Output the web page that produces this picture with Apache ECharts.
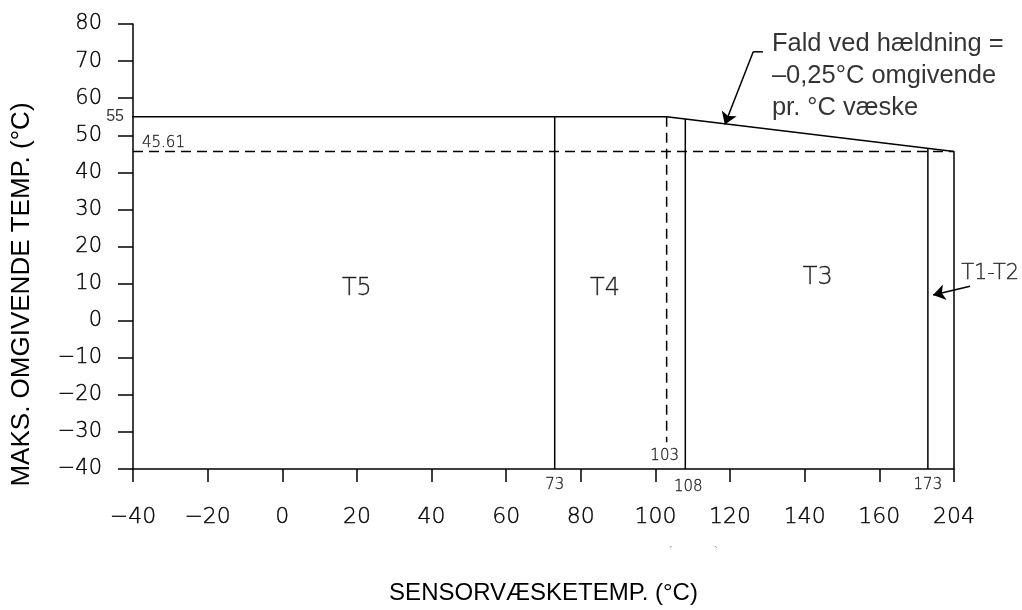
<!DOCTYPE html>
<html>
<head>
<meta charset="utf-8">
<script src="https://cdn.jsdelivr.net/npm/echarts@6/dist/echarts.min.js"></script>
<style>html,body{margin:0;padding:0;background:#fff}#c{width:1022px;height:610px}</style>
</head>
<body>
<div id="c"></div>
<script>
// ---- data ----
var xTickValues = [-40, -20, 0, 20, 40, 60, 80, 100, 120, 140, 160, 180];
var xTickLabels = ['−40', '−20', '0', '20', '40', '60', '80', '100', '120', '140', '160', '204'];
var yTickValues = [-40, -30, -20, -10, 0, 10, 20, 30, 40, 50, 60, 70, 80];
// boundary: flat 55 to 103, sloping down to end (labelled 204, drawn at axis end), down to axis
var boundary = [[-40, 55], [103, 55], [180, 45.61], [180, -40]];
var line73 = [[73, 55], [73, -40]];
var line108 = [[108, 54.4], [108, -40]];
var line173 = [[173, 46.5], [173, -40]];
var dashH = [[-40, 45.61], [180, 45.61]];
var dashV = [[103, 55], [103, -32.8]];
var axisExt = [[-43.7, -40], [-40, -40]];
var tick55 = [[-42.1, 55], [-40, 55]];
var zoneNames = ['T5', 'T4', 'T3', 'T1-T2'];
var zonePos = [[20, 8.7], [86.5, 8.7], [143.5, 11.7], [189.7, 12.8]];
var leaderH = [[128.8, 72.5], [126.2, 72.5]];
var leaderArrow = [[126.2, 72.5], [118.6, 52.9]];
var t12Arrow = [[184.3, 9.3], [174.4, 6.9]];
var noteText = 'Fald ved hældning =\n–0,25°C omgivende\npr. °C væske';
var notePos = [131.2, 79.0];

var TICKFONT = 'DejaVu Sans';
var THIN = { textBorderColor: '#000', textBorderWidth: 0.35 };
function seg(data, dashed) {
  return {
    type: 'line', data: data, symbol: 'none', clip: false, silent: true,
    lineStyle: { color: '#000', width: 1.5, type: dashed ? [10, 6] : 'solid' },
    z: 3
  };
}
function txt(pt, text, opt) {
  return {
    type: 'scatter', data: [pt], symbolSize: 0, clip: false, silent: true, z: 5,
    label: Object.assign({
      show: true, position: [0, 0], formatter: text, color: '#000',
      fontFamily: TICKFONT, fontWeight: 200, fontSize: 15,
      align: 'center', verticalAlign: 'middle'
    }, THIN, opt)
  };
}
var series = [
  seg(boundary), seg(line73), seg(line108), seg(line173),
  seg(dashH, true), seg(dashV, true), seg(axisExt), seg(tick55), seg(leaderH),
  {
    type: 'lines', coordinateSystem: 'cartesian2d', clip: false, silent: true,
    polyline: false, symbol: ['none', 'arrow'], symbolSize: 12,
    lineStyle: { color: '#000', width: 1.5, opacity: 1 },
    data: [{ coords: leaderArrow }, { coords: t12Arrow }], z: 4
  },
  txt([-40, 55], '55', { align: 'right', offset: [-9, 0], fontFamily: 'Liberation Sans', fontWeight: 'normal', fontSize: 16, textBorderWidth: 0 }),
  txt([-40, 45.61], '45.61', { align: 'left', offset: [9, -8] }),
  txt([73, -40], '73', { offset: [0, 16] }),
  txt([108, -40], '108', { offset: [3, 18] }),
  txt([173, -40], '173', { offset: [0, 16] }),
  txt([103, -40], '103', { offset: [-2, -13] }),
  txt(notePos, noteText, { align: 'left', verticalAlign: 'top', fontFamily: 'Liberation Sans', fontWeight: 'normal', fontSize: 25.5, lineHeight: 32, color: '#000', textBorderWidth: 0 })
];
zoneNames.forEach(function (n, i) {
  series.push(txt(zonePos[i], n, { fontSize: i === 3 ? 21 : 24 }));
});

var chart = echarts.init(document.getElementById('c'));
chart.setOption({
  animation: false,
  backgroundColor: '#fff',
  grid: { left: 133, right: 68, top: 24, bottom: 138 },
  xAxis: {
    type: 'value', min: -40, max: 180, interval: 20,
    name: 'SENSORVÆSKETEMP. (°C)', nameLocation: 'middle', nameGap: 112,
    nameTextStyle: { fontFamily: 'Liberation Sans', fontSize: 24, color: '#000' },
    axisLine: { show: true, onZero: false, lineStyle: { color: '#000', width: 1.5 } },
    axisTick: { show: true, length: 13, lineStyle: { color: '#000', width: 1.5 } },
    axisLabel: Object.assign({
      margin: 37, fontFamily: TICKFONT, fontWeight: 200, fontSize: 22, color: '#000',
      formatter: function (v) { var i = xTickValues.indexOf(v); return i >= 0 ? xTickLabels[i] : ''; }
    }, THIN),
    splitLine: { show: false }
  },
  yAxis: {
    type: 'value', min: -40, max: 80, interval: 10,
    name: 'MAKS. OMGIVENDE TEMP. (°C)', nameLocation: 'middle', nameGap: 98, nameRotate: 90,
    nameTextStyle: { fontFamily: 'Liberation Sans', fontSize: 26, color: '#000', padding: [0, 96, 0, 0] },
    axisLine: { show: true, onZero: false, lineStyle: { color: '#000', width: 1.5 } },
    axisTick: { show: true, length: 15, lineStyle: { color: '#000', width: 1.5 } },
    axisLabel: Object.assign({
      margin: 31, fontFamily: TICKFONT, fontWeight: 200, fontSize: 21, color: '#000',
      formatter: function (v) { return v < 0 ? '−' + Math.abs(v) : String(v); }
    }, THIN),
    splitLine: { show: false }
  },
  graphic: [
    { type: 'text', left: 669, top: 547, style: { text: '´', fontSize: 12, fill: '#999' } },
    { type: 'text', left: 714, top: 547, style: { text: '`', fontSize: 12, fill: '#999' } }
  ],
  series: series
});
</script>
</body>
</html>
